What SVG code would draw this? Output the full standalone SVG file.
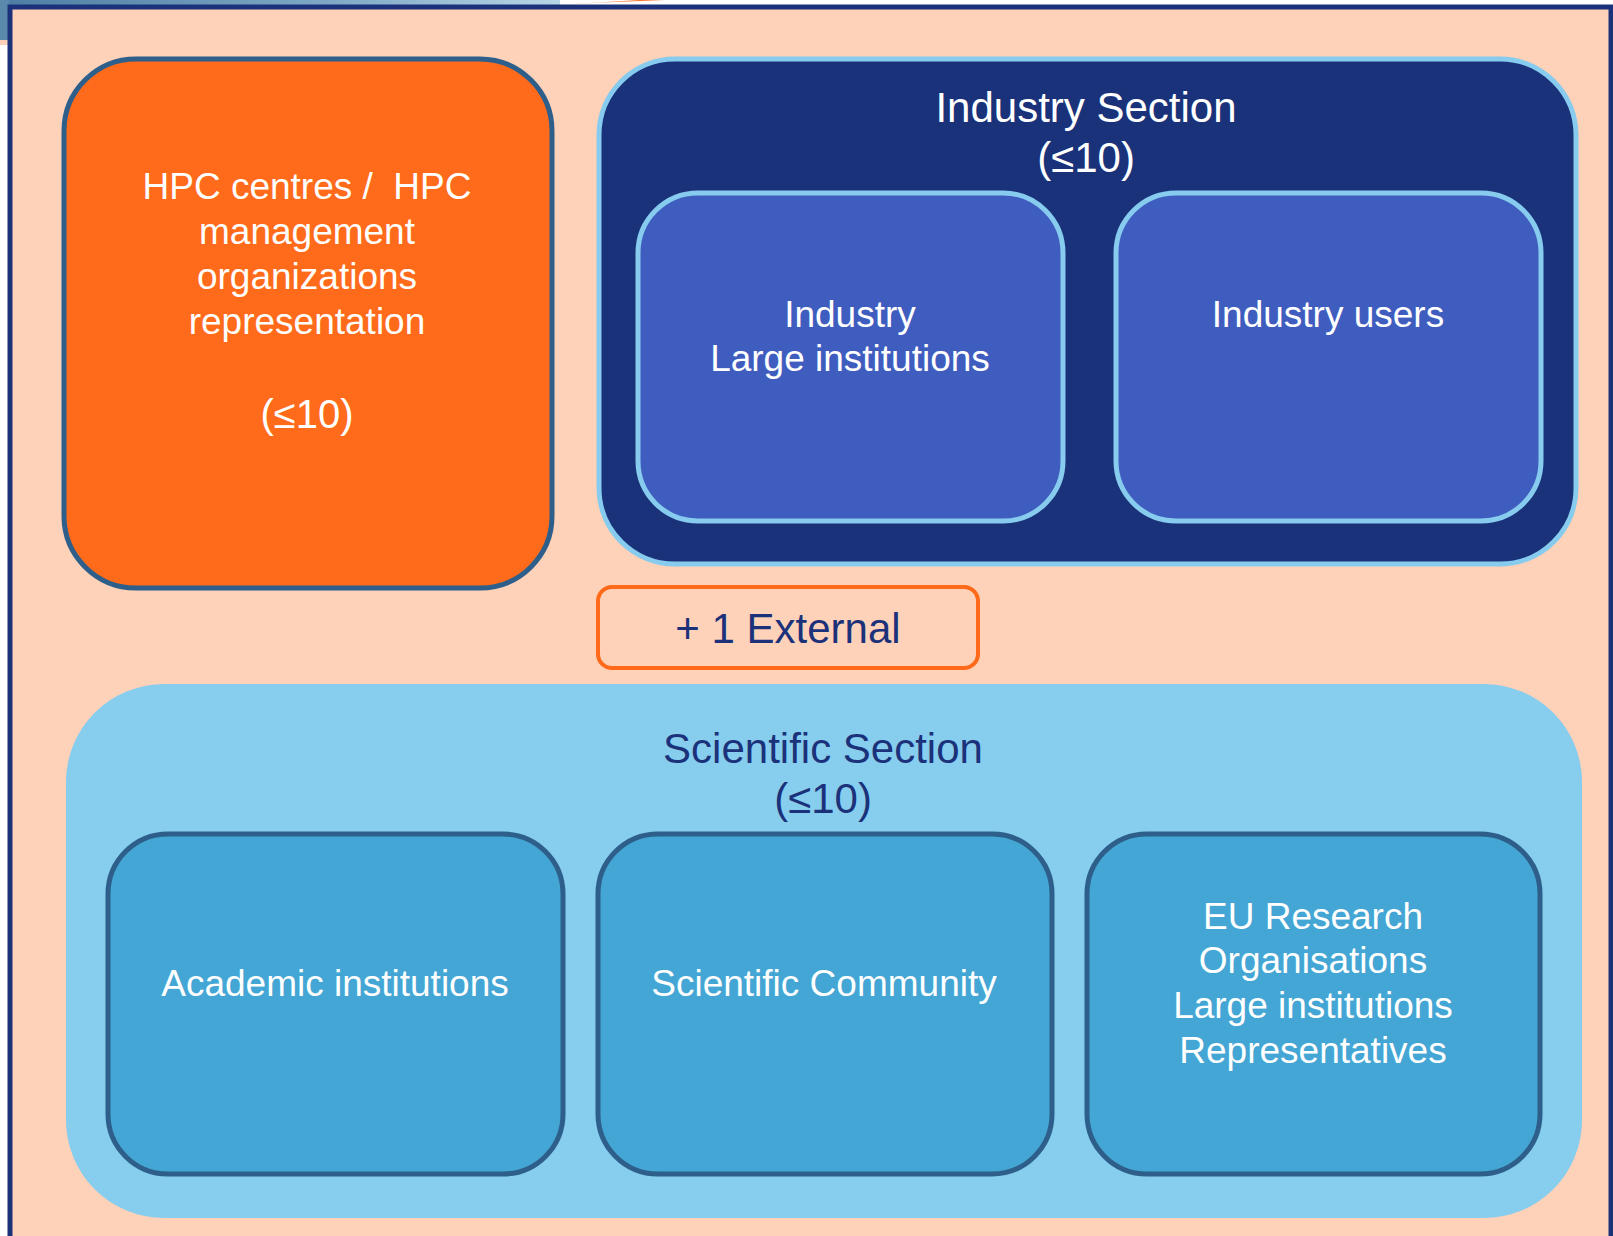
<svg xmlns="http://www.w3.org/2000/svg" width="1613" height="1236" viewBox="0 0 1613 1236">
<defs>
<linearGradient id="band" x1="0" y1="0" x2="1" y2="0">
<stop offset="0" stop-color="#4d7ea3"/>
<stop offset="0.6" stop-color="#7fa9c6"/>
<stop offset="1" stop-color="#b9d6e6"/>
</linearGradient>
<style>
text{font-family:"Liberation Sans",Arial,sans-serif;text-anchor:middle;white-space:pre}
.w{fill:#ffffff}
.d{fill:#1b327a}
.s37{font-size:37px}
.s42{font-size:42px}
.inner-ind{fill:#3f5dbf;stroke:#87ccee;stroke-width:5}
.inner-sci{fill:#44a6d4;stroke:#2d5f8a;stroke-width:5}
</style>
</defs>
<rect x="0" y="0" width="1613" height="1236" fill="#ffffff"/>
<rect x="0" y="0" width="560" height="6" fill="url(#band)"/>
<rect x="0" y="0" width="9" height="40" fill="#5b89ac"/>
<rect x="0" y="40" width="9" height="5" fill="#fdd1b9"/>
<path d="M540 6 Q600 2 665 0 L640 0 Q590 3 540 6 Z" fill="#ff6a1a"/>
<rect x="10" y="7" width="1601" height="1240" fill="#fed1b9" stroke="#1b327a" stroke-width="5"/>

<g id="hpc">
<rect x="64" y="59" width="488" height="529" rx="72" ry="72" fill="#ff6b1a" stroke="#2d5f8a" stroke-width="5"/>
<text class="w s37" x="307" y="199" xml:space="preserve">HPC centres /  HPC</text>
<text class="w s37" x="307" y="244">management</text>
<text class="w s37" x="307" y="289">organizations</text>
<text class="w s37" x="307" y="334">representation</text>
<text class="w" x="307" y="428" font-size="40">(≤10)</text>
</g>

<g id="industry-section">
<rect x="599" y="59" width="977" height="505" rx="76" ry="76" fill="#1a327a" stroke="#87ccee" stroke-width="5"/>
<text class="w s42" x="1086" y="122">Industry Section</text>
<text class="w s42" x="1086" y="172">(≤10)</text>
</g>
<g id="industry-large">
<rect class="inner-ind" x="638" y="193" width="425" height="328" rx="60" ry="60"/>
<text class="w s37" x="850" y="327">Industry</text>
<text class="w s37" x="850" y="371">Large institutions</text>
</g>
<g id="industry-users">
<rect class="inner-ind" x="1116" y="193" width="425" height="328" rx="60" ry="60"/>
<text class="w s37" x="1328" y="327">Industry users</text>
</g>

<g id="external">
<rect x="598" y="587" width="380" height="81" rx="14" ry="14" fill="none" stroke="#ff6a1a" stroke-width="4"/>
<text class="d s42" x="788" y="643">+ 1 External</text>
</g>

<g id="scientific-section">
<rect x="66" y="684" width="1516" height="534" rx="98" ry="98" fill="#86cdee"/>
<text class="d s42" x="823" y="763">Scientific Section</text>
<text class="d s42" x="823" y="813">(≤10)</text>
</g>
<g id="academic">
<rect class="inner-sci" x="108" y="834" width="455" height="340" rx="60" ry="60"/>
<text class="w s37" x="335" y="996">Academic institutions</text>
</g>
<g id="community">
<rect class="inner-sci" x="598" y="834" width="454" height="340" rx="60" ry="60"/>
<text class="w s37" x="824" y="996">Scientific Community</text>
</g>
<g id="eu-research">
<rect class="inner-sci" x="1087" y="834" width="453" height="340" rx="60" ry="60"/>
<text class="w s37" x="1313" y="929">EU Research</text>
<text class="w s37" x="1313" y="973">Organisations</text>
<text class="w s37" x="1313" y="1018">Large institutions</text>
<text class="w s37" x="1313" y="1063">Representatives</text>
</g>
<g id="connectors"></g>
</svg>
